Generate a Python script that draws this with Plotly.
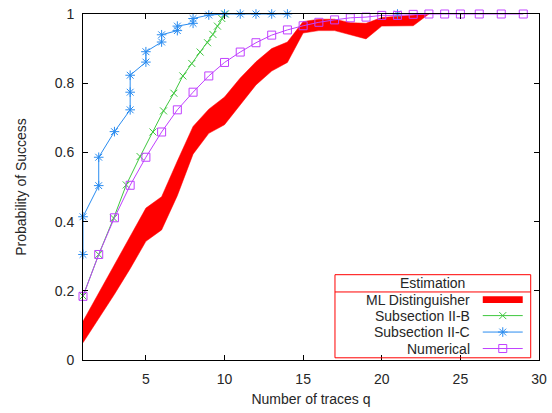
import plotly.graph_objects as go

# ---- data ----
ml_q = list(range(1, 24))
ml_low = [0.050, 0.12, 0.19, 0.264, 0.343, 0.376, 0.475, 0.595, 0.655, 0.68, 0.737, 0.795,
          0.835, 0.86, 0.945, 0.952, 0.952, 0.94, 0.928, 0.965, 0.966, 0.966, 1.0]
ml_high = [0.112, 0.19, 0.275, 0.357, 0.439, 0.472, 0.575, 0.675, 0.725, 0.76, 0.815, 0.862,
           0.90, 0.919, 0.978, 0.985, 0.985, 0.975, 0.973, 0.99, 0.992, 0.996, 1.0]

b2_q = [1, 2, 2.95, 3.75, 4.63, 5.45, 6.12, 6.78, 7.35, 7.92, 8.45, 8.92, 9.26, 9.55, 9.83, 10.05]
b2_p = [0.185, 0.305, 0.41, 0.506, 0.588, 0.659, 0.72, 0.771, 0.821, 0.857, 0.89, 0.917,
        0.941, 0.965, 0.987, 1.0]

c2_q = [1, 1, 2, 2, 3, 4, 4, 4, 5, 5, 6, 6, 7, 7, 8, 8, 9, 10, 11, 12, 13, 14, None, 21]
c2_p = [0.305, 0.414, 0.504, 0.586, 0.66, 0.723, 0.774, 0.823, 0.861, 0.891, 0.919, 0.94,
        0.952, 0.965, 0.973, 0.987, 0.997, 1, 1, 1, 1, 1, None, 1]

num_q = list(range(1, 26)) + [26.2, 27.6, 29]
num_p = [0.184, 0.305, 0.411, 0.505, 0.586, 0.659, 0.723, 0.774, 0.821, 0.86, 0.89, 0.917,
         0.939, 0.954, 0.966, 0.976, 0.983, 0.989, 0.991, 0.996, 0.996, 0.999, 1, 1, 1, 1, 1, 1]

x_ticks = [5, 10, 15, 20, 25, 30]
y_ticks = [0, 0.2, 0.4, 0.6, 0.8, 1]
y_ticktext = ["0", "0.2", "0.4", "0.6", "0.8", "1"]

legend_names = ["ML Distinguisher", "Subsection II-B", "Subsection II-C", "Numerical"]
legend_title = "Estimation"

# ---- styling ----
RED = "#ff0000"
GREEN = "#3ec73e"
BLUE = "#2a8cf0"
PURPLE = "#c040ff"
TXT = "#262626"
FONT = "Liberation Sans"

W, H = 552, 413
L, R, T, B = 82.7, 539.3, 13.7, 360.5

fig = go.Figure()

# ML band (filled polygon between lower and upper curves)
fig.add_trace(go.Scatter(
    x=ml_q + ml_q[::-1], y=ml_low + ml_high[::-1],
    fill="toself", fillcolor=RED, mode="lines",
    line=dict(color=RED, width=0.5), showlegend=False, hoverinfo="skip"))

fig.add_trace(go.Scatter(
    x=b2_q, y=b2_p, mode="lines+markers",
    line=dict(color=GREEN, width=1),
    marker=dict(symbol="x-thin-open", size=7, color=GREEN, line=dict(color=GREEN, width=1)),
    cliponaxis=False, showlegend=False))

fig.add_trace(go.Scatter(
    x=c2_q, y=c2_p, mode="lines+markers", connectgaps=False,
    line=dict(color=BLUE, width=1),
    marker=dict(symbol="asterisk-open", size=8, color=BLUE, line=dict(color=BLUE, width=1)),
    cliponaxis=False, showlegend=False))

fig.add_trace(go.Scatter(
    x=num_q, y=num_p, mode="lines+markers",
    line=dict(color=PURPLE, width=1),
    marker=dict(symbol="square-open", size=8, color=PURPLE, line=dict(color=PURPLE, width=1)),
    cliponaxis=False, showlegend=False))

# ---- hand-drawn legend in pixel coordinates on an overlay axis ----
box_l, box_r, box_t, box_b, sep = 335, 531, 275, 358.3, 292.3
row_y = [300, 316, 332.5, 349]
colors = [RED, GREEN, BLUE, PURPLE]
symbols = [None, "x-thin-open", "asterisk-open", "square-open"]
shapes = [
    dict(type="rect", xref="x2", yref="y2", x0=box_l, x1=box_r, y0=box_t, y1=box_b,
         line=dict(width=0), fillcolor="white", layer="below"),
    dict(type="rect", xref="x2", yref="y2", x0=box_l, x1=box_r, y0=box_t, y1=box_b,
         line=dict(color=RED, width=1), fillcolor="rgba(0,0,0,0)", layer="above"),
    dict(type="line", xref="x2", yref="y2", x0=box_l, x1=box_r, y0=sep, y1=sep,
         line=dict(color=RED, width=1), layer="above"),
    dict(type="rect", xref="x2", yref="y2", x0=483, x1=523, y0=row_y[0] - 3.3, y1=row_y[0] + 3.3,
         line=dict(width=0), fillcolor=RED, layer="above"),
]
for i in (1, 2, 3):
    shapes.append(dict(type="line", xref="x2", yref="y2", x0=483, x1=523,
                       y0=row_y[i], y1=row_y[i], line=dict(color=colors[i], width=1),
                       layer="below"))
    fig.add_trace(go.Scatter(
        x=[503], y=[row_y[i]], xaxis="x2", yaxis="y2", mode="markers",
        marker=dict(symbol=symbols[i], size=8 if i != 1 else 7, color=colors[i],
                    line=dict(color=colors[i], width=1)),
        showlegend=False, hoverinfo="skip", cliponaxis=False))

annotations = [dict(xref="x2", yref="y2", x=433, y=283.7, text=legend_title, showarrow=False,
                    font=dict(family=FONT, size=14, color=TXT), xanchor="center", yanchor="middle")]
for i, name in enumerate(legend_names):
    annotations.append(dict(xref="x2", yref="y2", x=472, y=row_y[i], text=name, showarrow=False,
                            font=dict(family=FONT, size=14, color=TXT),
                            xanchor="right", yanchor="middle"))

fig.update_layout(
    width=W, height=H,
    margin=dict(l=L, r=W - R, t=T, b=H - B, pad=0, autoexpand=False),
    paper_bgcolor="white", plot_bgcolor="white",
    font=dict(family=FONT, size=14, color=TXT),
    showlegend=False,
    xaxis=dict(range=[1, 30], tickvals=x_ticks, ticks="inside", ticklen=5, tickcolor="black",
               showline=True, linecolor="black", linewidth=1, mirror="ticks",
               showgrid=False, zeroline=False, ticklabelstandoff=6, automargin=False,
               title=dict(text="Number of traces q", font=dict(size=14, color=TXT), standoff=8),
               tickfont=dict(size=14, color=TXT)),
    yaxis=dict(range=[0, 1], tickvals=y_ticks, ticktext=y_ticktext, ticks="inside", ticklen=5,
               tickcolor="black", showline=True, linecolor="black", linewidth=1, mirror="ticks",
               showgrid=False, zeroline=False, ticklabelstandoff=5, automargin=False,
               title=dict(text="Probability of Success", font=dict(size=14, color=TXT), standoff=24),
               tickfont=dict(size=14, color=TXT)),
    xaxis2=dict(overlaying="x", range=[L, R], visible=False, fixedrange=True),
    yaxis2=dict(overlaying="y", range=[B, T], visible=False, fixedrange=True),
    shapes=shapes, annotations=annotations,
)

fig.write_html("out.html")
